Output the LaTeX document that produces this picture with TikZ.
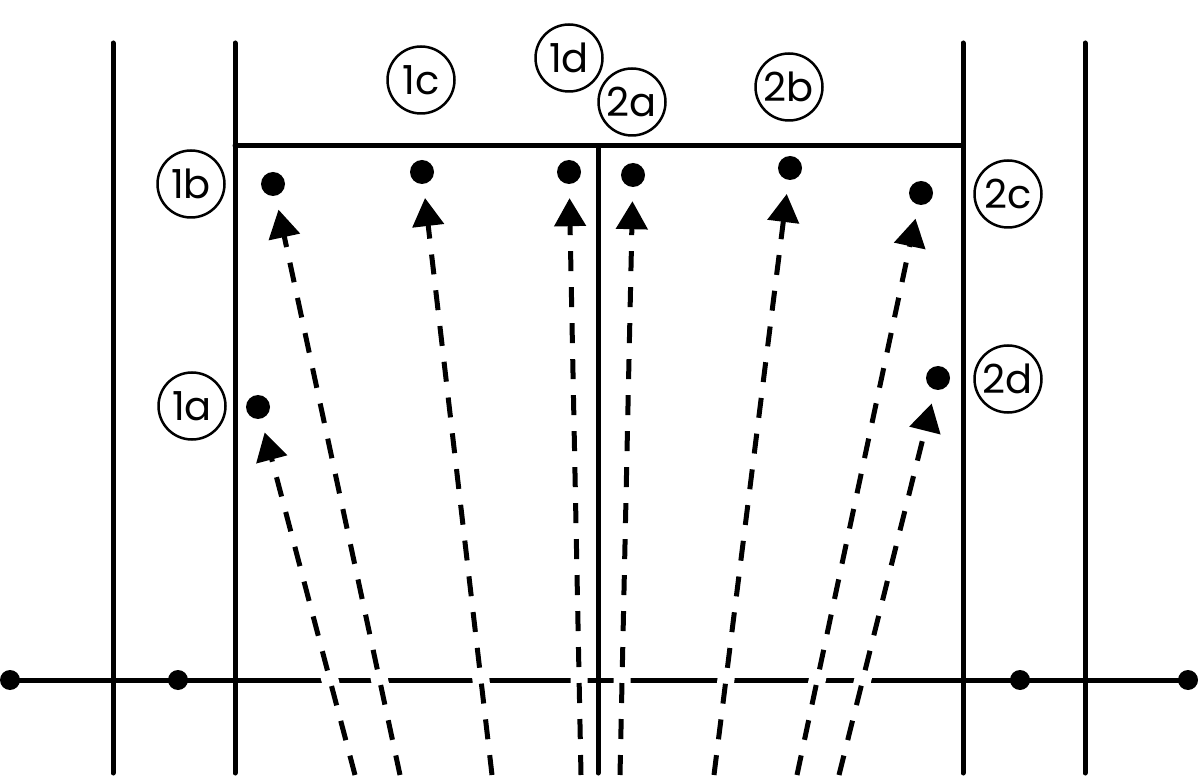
\documentclass[tikz,border=0pt]{standalone}
\usepackage{fontspec}
\setmainfont{Poppins}
\usetikzlibrary{positioning,arrows.meta}
\tikzstyle{wall} = [line width=5pt, line cap=round]
\tikzstyle{dot} = [circle, fill=black, inner sep=0pt, minimum size=24pt]
\tikzstyle{knot} = [circle, fill=black, inner sep=0pt, minimum size=20pt]
\tikzstyle{tag} = [circle, draw=black, line width=2.5pt, inner sep=0pt, minimum size=67pt, font=\fontsize{40}{40}\selectfont]
\tikzstyle{arrow} = [line width=5pt, dash pattern=on 20pt off 16pt, -{Triangle[length=28pt,width=31pt]}, shorten >=14pt,
    preaction={draw=white, line width=17pt, solid, -}]
\begin{document}
\begin{tikzpicture}[x=1pt, y=-1pt]
    \useasboundingbox (0,0) rectangle (1200,783);
    % We start by placing the ground line
    \node [knot] (k1) at (10,680) {};
    \node [knot] (k2) at (178,680) {};
    \node [knot] (k3) at (1020,680) {};
    \node [knot] (k4) at (1188,680) {};
    \draw [wall] (k1.center) -- (k4.center);
    % the targets
    \node [dot] (d1a) at (258,407) {};
    \node [dot] (d1b) at (273,184) {};
    \node [dot] (d1c) at (422,172) {};
    \node [dot] (d1d) at (569,172) {};
    \node [dot] (d2a) at (633,175) {};
    \node [dot] (d2b) at (790,168) {};
    \node [dot] (d2c) at (921,193) {};
    \node [dot] (d2d) at (938,378) {};
    % starting points below the picture
    \coordinate (s1a) at (355,775);
    \coordinate (s1b) at (400,775);
    \coordinate (s1c) at (492,775);
    \coordinate (s1d) at (581,775);
    \coordinate (s2a) at (620,775);
    \coordinate (s2b) at (714,775);
    \coordinate (s2c) at (797,775);
    \coordinate (s2d) at (839,775);
    \draw [arrow] (s1a) -- (d1a);
    \draw [arrow] (s1b) -- (d1b);
    \draw [arrow] (s1c) -- (d1c);
    \draw [arrow] (s1d) -- (d1d);
    \draw [arrow] (s2a) -- (d2a);
    \draw [arrow] (s2b) -- (d2b);
    \draw [arrow] (s2c) -- (d2c);
    \draw [arrow] (s2d) -- (d2d);
    % the walls and the box
    \draw [wall] (113,43) -- (113,773);
    \draw [wall] (235,43) -- (235,773);
    \draw [wall] (963,43) -- (963,773);
    \draw [wall] (1085,43) -- (1085,773);
    \draw [wall] (235,146) -- (963,146);
    \draw [wall] (598,146) -- (598,773);
    % labels
    \node [tag] (l1a) at (192,406) {1a};
    \node [tag] (l1b) at (191,184) {1b};
    \node [tag] (l1c) at (421,80) {1c};
    \node [tag] (l1d) at (569,58) {1d};
    \node [tag] (l2a) at (632,102) {2a};
    \node [tag] (l2b) at (789,87) {2b};
    \node [tag] (l2c) at (1008,194) {2c};
    \node [tag] (l2d) at (1008,379) {2d};
\end{tikzpicture}
\end{document}
